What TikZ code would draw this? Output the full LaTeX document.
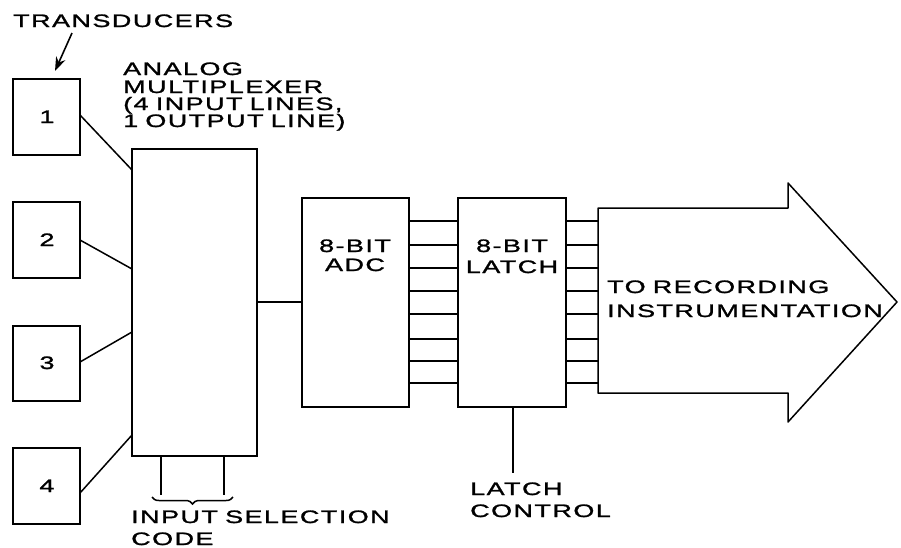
\documentclass[tikz,border=0pt]{standalone}
\usepackage{fontspec}
\newfontfamily\lett[FakeStretch=1.5,LetterSpace=8,WordSpace=0.8,FakeBold=1.4]{Liberation Sans}
\usetikzlibrary{decorations.pathreplacing,arrows.meta}
\tikzset{
  ln/.style={line width=1.5pt},
  lab/.style={inner sep=0pt,font=\lett\fontsize{18}{18}\selectfont,anchor=base west},
  labc/.style={inner sep=0pt,font=\lett\fontsize{18}{18}\selectfont,anchor=base},
}
\begin{document}
\begin{tikzpicture}[x=1pt,y=-1pt]
\useasboundingbox (0,0) rectangle (901,547);
% transducer boxes
\foreach \n/\t/\b in {1/79/155,2/202/278,3/326/401,4/448/524}{
  \draw[ln] (13,\t) rectangle (80,\b);
}
\node[labc] (d1) at (47,123) {1};
\node[labc] (d2) at (47,246) {2};
\node[labc] (d3) at (47,369) {3};
\node[labc] (d4) at (47,492) {4};
% multiplexer
\draw[ln] (132,149) rectangle (257,456);
\draw[ln] (80,115) -- (132,170);
\draw[ln] (80,240) -- (132,269);
\draw[ln] (80,362) -- (132,332);
\draw[ln] (80,493) -- (132,435);
% selection lines and brace
\draw[ln] (161,456) -- (161,495);
\draw[ln] (224,456) -- (224,495);
\draw[line width=1.5pt,decorate,decoration={brace,mirror,amplitude=7pt}] (152,497) -- (233,497);
% ADC and latch
\draw[ln] (302,198) rectangle (409,407);
\draw[ln] (458,198) rectangle (566,407);
\draw[ln] (257,302) -- (302,302);
\foreach \y in {221,245,268,291,314,339,361,383}{
  \draw[ln] (409,\y) -- (458,\y);
  \draw[ln] (566,\y) -- (598,\y);
}
\draw[ln] (513,407) -- (513,473);
% big arrow
\draw[ln,line join=round] (598,208) -- (788,208) -- (788,183) -- (897,302) -- (788,422) -- (788,393) -- (598,393) -- cycle;
% labels
\node[lab] (tr) at (13,27) {TRANSDUCERS};
\draw[line width=1.6pt,-{Stealth[length=14pt,width=10pt]}] (72,33) -- (55,71);
\node[lab] (m1) at (123,75) {ANALOG};
\node[lab] (m2) at (123,93) {MULTIPLEXER};
\node[lab] (m3) at (123,110) {(4 INPUT LINES,};
\node[lab] (m4) at (123,127) {1 OUTPUT LINE)};
\node[labc] (a1) at (355,252) {8-BIT};
\node[labc] (a2) at (355,271) {ADC};
\node[labc] (l1) at (512,252) {8-BIT};
\node[labc] (l2) at (512,273) {LATCH};
\node[lab] (r1) at (607,293) {TO RECORDING};
\node[lab] (r2) at (607,317) {INSTRUMENTATION};
\node[lab] (s1) at (131,523) {INPUT SELECTION};
\node[lab] (s2) at (131,545) {CODE};
\node[lab] (c1) at (470,495) {LATCH};
\node[lab] (c2) at (470,517) {CONTROL};
\end{tikzpicture}
\end{document}
